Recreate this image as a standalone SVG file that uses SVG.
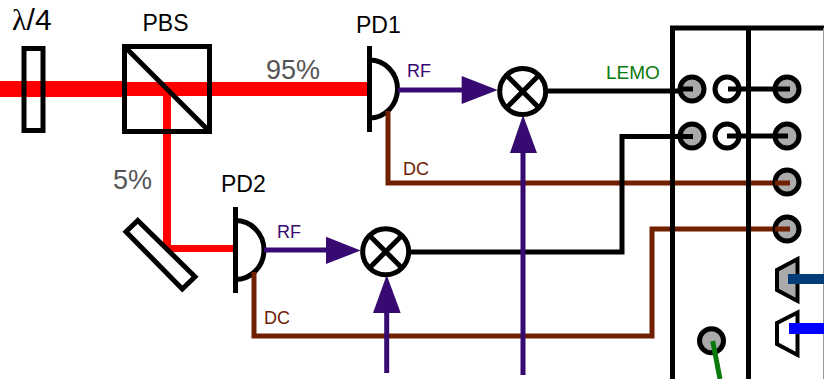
<svg xmlns="http://www.w3.org/2000/svg" width="824" height="379" viewBox="0 0 824 379">
<style>
text{font-family:"Liberation Sans",Arial,sans-serif}
.o{fill:none;stroke:#000;stroke-width:5}
.k{fill:none;stroke:#000;stroke-width:5}
.dc{fill:none;stroke:#702000;stroke-width:5}
.rf{fill:none;stroke:#360a70;stroke-width:5}
.rfh{fill:#360a70}
.red{fill:#f00}
.g{fill:#aaa;stroke:#000;stroke-width:5}
.w{fill:#fff;stroke:#000;stroke-width:5}
.lb{font-size:23px;fill:#000}
.pc{font-size:27px;fill:#555}
.rft{font-size:18px;fill:#360a70}
.dct{font-size:18px;fill:#702000}
</style>
<g id="beam">
<rect class="red" x="0" y="81" width="123" height="16"/>
<rect class="red" x="123" y="82" width="244" height="14"/>
<rect class="red" x="163" y="96" width="8" height="156"/>
<rect class="red" x="171" y="245" width="63" height="7"/>
</g>
<g id="waveplate"><rect class="o" x="24" y="48.500" width="19" height="82"/><text class="lb" x="12" y="30" style="font-size:30px"><tspan style="font-family:'Liberation Serif',serif">λ</tspan>/4</text></g>
<g id="pbs"><rect class="o" x="124.500" y="46.500" width="85" height="85"/><path class="o" d="M125 47L210 132"/><text class="lb" x="142.500" y="31">PBS</text></g>
<g id="mirror"><polygon class="w" points="137.700,220.500 126,231.700 182.300,289 195,276.700"/></g>
<g id="pd1"><path class="k" d="M369.500 46V132"/><path class="k" d="M369.500 60A28 29 0 0 1 369.500 118"/><text class="lb" x="356" y="33">PD1</text></g>
<g id="pd2"><path class="k" d="M235.500 207V293"/><path class="k" d="M235.500 220.500A28 29 0 0 1 235.500 279.500"/><text class="lb" x="221" y="192">PD2</text></g>
<g id="connectors">
<path class="dc" d="M388 111V183H790"/>
<path class="dc" d="M254 272V336H652V229H790"/>
<path class="k" d="M548 91H693"/>
<path class="k" d="M411 252H622V136.500H693"/>
<path class="k" d="M728 89H790"/>
<path class="k" d="M727 136H788"/>
<path class="rf" d="M398 90H465"/>
<polygon class="rfh" points="461.700,76 497.700,90 461.700,104"/>
<path class="rf" d="M264 250H329"/>
<polygon class="rfh" points="326,236.700 360.700,250.500 326,264"/>
<path class="rf" d="M523 150V375"/>
<polygon class="rfh" points="523,115 537,153 510,153"/>
<path class="rf" d="M386.700 310V373"/>
<polygon class="rfh" points="386.700,275 400.700,313 373,313"/>
</g>
<g id="mixer1"><circle class="w" cx="522.700" cy="91.500" r="23"/><path class="k" d="M506.500 75.300L538.900 107.700M538.900 75.300L506.500 107.700"/></g>
<g id="mixer2"><circle class="w" cx="385.700" cy="251.700" r="23"/><path class="k" d="M369.500 235.500L401.900 267.900M401.900 235.500L369.500 267.900"/></g>
<g id="labels">
<text class="pc" x="266" y="79">95%</text>
<text class="pc" x="113" y="189">5%</text>
<text class="rft" x="407" y="77">RF</text>
<text class="rft" x="277" y="238">RF</text>
<text class="dct" x="403" y="175">DC</text>
<text class="dct" x="264" y="324">DC</text>
<text x="606" y="79" style="font-size:19px;fill:#0a7a0a">LEMO</text>
</g>
<g id="panel">
<path class="k" d="M672.500 379V28H824"/>
<path class="k" d="M748.500 28V379"/>
<path d="M823.500 28V379" fill="none" stroke="#999" stroke-width="1"/>
</g>
<g id="ports">
<circle class="g" cx="692" cy="89" r="12"/>
<circle class="g" cx="692" cy="136" r="12"/>
<circle class="w" cx="727" cy="89" r="12" style="fill:none"/>
<circle class="w" cx="727" cy="136" r="12" style="fill:none"/>
<circle class="g" cx="787" cy="89" r="12"/>
<circle class="g" cx="787" cy="136" r="12"/>
<circle class="g" cx="787" cy="182" r="12"/>
<circle class="g" cx="787" cy="229" r="12"/>
<circle class="g" cx="711.500" cy="340.700" r="12"/>
<polygon points="797.500,259 777,270 777,290 797.500,301" style="fill:#aaa;stroke:#000;stroke-width:4"/>
<polygon points="797.500,312.500 777,323 777,344 797.500,355" style="fill:#fff;stroke:#000;stroke-width:4"/>
</g>
<g id="port-wires">
<path class="k" d="M680 89H693M680 136.500H693M775 89H790M775 136H788"/>
<path class="dc" d="M775 183H790M775 229H790"/>
<rect x="788" y="274" width="36" height="10" fill="#003c78"/>
<rect x="789" y="323" width="35" height="11" fill="#00f"/>
<path d="M712.700 341L720 379" fill="none" stroke="#0a7a0a" stroke-width="5"/>
</g>
</svg>
